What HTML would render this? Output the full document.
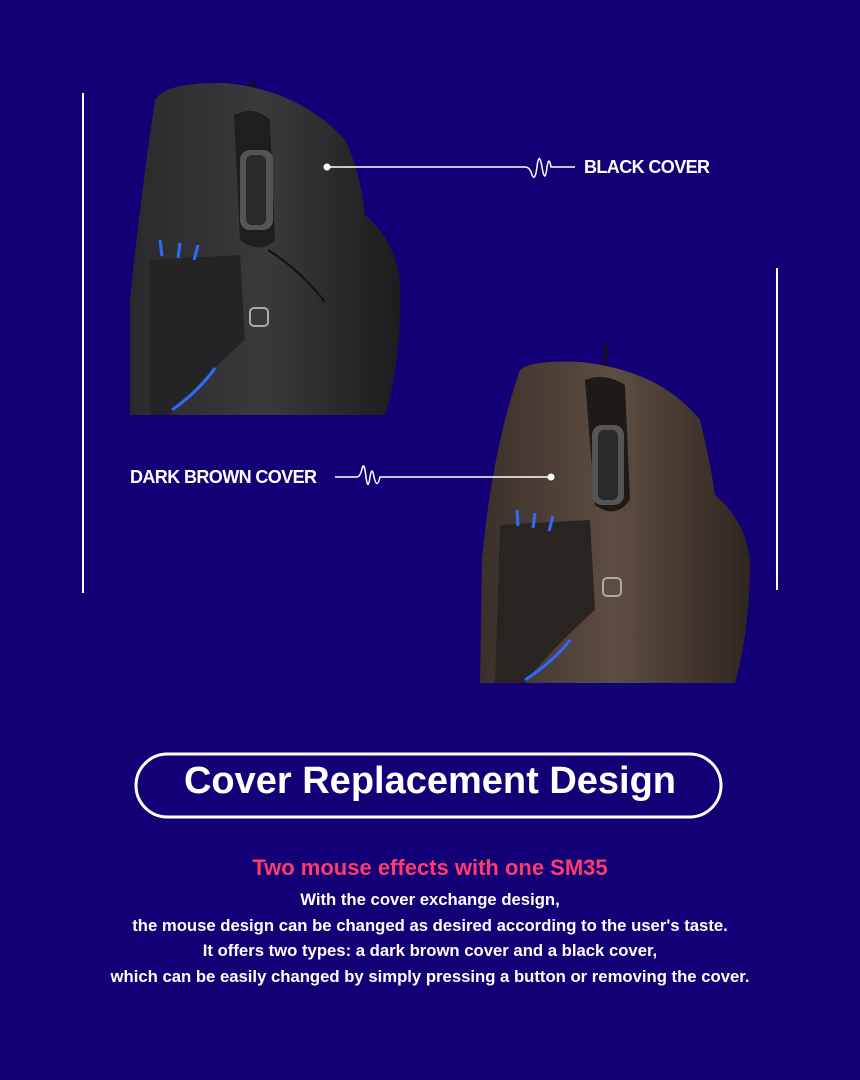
<!DOCTYPE html>
<html><head><meta charset="utf-8"><style>
html,body{margin:0;padding:0;}
body{width:860px;height:1080px;background:#130077;position:relative;overflow:hidden;font-family:"Liberation Sans",sans-serif;}
.t{position:absolute;color:#fff;font-weight:bold;white-space:nowrap;}
</style></head><body>
<svg width="860" height="1080" style="position:absolute;left:0;top:0">
<defs>
<linearGradient id="bk" x1="0" x2="1"><stop offset="0" stop-color="#2a2a2c"/><stop offset="0.5" stop-color="#3a3a3c"/><stop offset="1" stop-color="#1c1c1e"/></linearGradient>
<linearGradient id="br" x1="0" x2="1"><stop offset="0" stop-color="#3a302a"/><stop offset="0.5" stop-color="#5e4d42"/><stop offset="1" stop-color="#2e2620"/></linearGradient>
</defs>
<line x1="83" y1="93" x2="83" y2="593" stroke="#fff" stroke-width="2"/>
<line x1="777" y1="268" x2="777" y2="590" stroke="#fff" stroke-width="2"/>
<g>
<path d="M252 80 L255 100" stroke="#111" stroke-width="3"/>
<path d="M130 415 L130 300 Q140 200 155 100 Q165 82 225 83 Q300 90 345 140 Q360 170 365 215 Q395 240 400 280 Q402 360 385 415 Z" fill="url(#bk)"/>
<path d="M234 115 Q255 105 270 120 L275 240 Q260 255 240 240 Z" fill="#1e1e20"/>
<rect x="240" y="150" width="33" height="80" rx="10" fill="#555"/>
<rect x="246" y="155" width="20" height="70" rx="6" fill="#2a2a2a"/>
<path d="M268 250 Q300 270 325 302" stroke="#111" stroke-width="2" fill="none"/>
<path d="M150 260 L240 255 L245 340 Q200 380 170 415 L150 415 Z" fill="#242426"/>
<path d="M160 240 L162 256 M180 243 L178 258 M198 245 L194 260" stroke="#2d6bff" stroke-width="3"/>
<path d="M172 410 Q200 390 215 368" stroke="#2d6bff" stroke-width="3" fill="none"/>
<rect x="250" y="308" width="18" height="18" rx="4" fill="none" stroke="#aaa" stroke-width="2"/>
</g>
<line x1="327" y1="167" x2="525" y2="167" stroke="#fff" stroke-width="1.5"/>
<circle cx="327" cy="167" r="3.5" fill="#fff"/>
<path d="M525 167 Q530 167 532 175 Q535 182 537 167 Q539 150 542 167 Q545 185 547 167 Q549 155 551 167 L575 167" stroke="#fff" stroke-width="1.5" fill="none"/>
<g>
<path d="M606 343 L604 375" stroke="#111" stroke-width="3"/>
<path d="M480 683 L482 560 Q492 450 520 370 Q530 360 580 362 Q660 370 700 420 Q710 460 715 495 Q745 520 750 560 Q750 630 735 683 Z" fill="url(#br)"/>
<path d="M585 380 Q605 372 625 385 L630 500 Q615 520 595 505 Z" fill="#1e1a18"/>
<rect x="592" y="425" width="32" height="80" rx="10" fill="#555"/>
<rect x="598" y="430" width="20" height="70" rx="6" fill="#2a2a2a"/>
<path d="M500 525 L590 520 L595 610 Q550 650 525 683 L495 683 Z" fill="#2a2421"/>
<path d="M517 510 L518 526 M535 513 L533 528 M553 516 L549 531" stroke="#2d6bff" stroke-width="3"/>
<path d="M525 680 Q555 660 570 640" stroke="#2d6bff" stroke-width="3" fill="none"/>
<rect x="603" y="578" width="18" height="18" rx="4" fill="none" stroke="#aaa" stroke-width="2"/>
</g>
<line x1="385" y1="477" x2="551" y2="477" stroke="#fff" stroke-width="1.5"/>
<circle cx="551" cy="477" r="3.5" fill="#fff"/>
<path d="M335 477 L357 477 Q360 477 362 469 Q364 460 366 477 Q368 492 370 477 Q372 465 374 477 Q377 490 380 477 L385 477" stroke="#fff" stroke-width="1.5" fill="none"/>
<rect x="136" y="754" width="585" height="63" rx="31.5" fill="none" stroke="#fff" stroke-width="3"/>
</svg>
<div class="t" style="left:584px;top:157px;font-size:18px;letter-spacing:-0.6px;">BLACK COVER</div>
<div class="t" style="left:130px;top:467px;font-size:18px;letter-spacing:-0.6px;">DARK BROWN COVER</div>
<div class="t" style="left:136px;top:760px;width:588px;text-align:center;font-size:38px;">Cover Replacement Design</div>
<div class="t" style="left:0;top:855px;width:860px;text-align:center;font-size:22px;color:#ff3b6b;">Two mouse effects with one SM35</div>
<div class="t" style="left:0;top:887px;width:860px;text-align:center;font-size:16.7px;line-height:25.5px;">With the cover exchange design,<br>the mouse design can be changed as desired according to the user's taste.<br>It offers two types: a dark brown cover and a black cover,<br>which can be easily changed by simply pressing a button or removing the cover.</div>
</body></html>
